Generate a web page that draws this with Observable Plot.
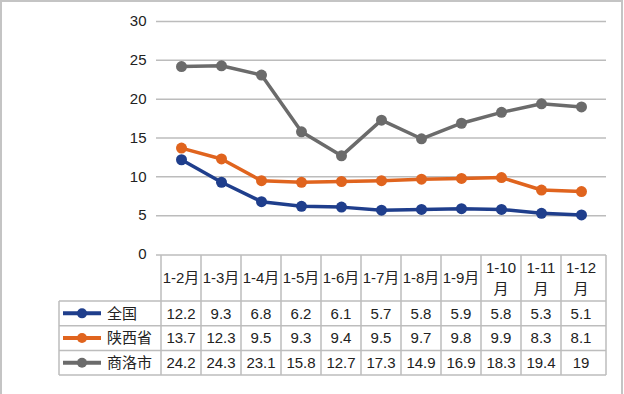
<!DOCTYPE html>
<html>
<head>
<meta charset="utf-8">
<script src="https://cdn.jsdelivr.net/npm/d3@7"></script>
<script src="https://cdn.jsdelivr.net/npm/@observablehq/plot@0.6"></script>
<style>
  html, body { margin: 0; padding: 0; background: #fff; }
  #chart { width: 624px; height: 394px; overflow: hidden; }
</style>
</head>
<body>
<div id="chart"></div>
<script>
const months = ["1-2月","1-3月","1-4月","1-5月","1-6月","1-7月","1-8月","1-9月","1-10月","1-11月","1-12月"];
const seriesNames = ["全国","陕西省","商洛市"];
const national = [12.2, 9.3, 6.8, 6.2, 6.1, 5.7, 5.8, 5.9, 5.8, 5.3, 5.1];
const shaanxi  = [13.7, 12.3, 9.5, 9.3, 9.4, 9.5, 9.7, 9.8, 9.9, 8.3, 8.1];
const shangluo = [24.2, 24.3, 23.1, 15.8, 12.7, 17.3, 14.9, 16.9, 18.3, 19.4, 19];
const valueLabels = [
  ["12.2","9.3","6.8","6.2","6.1","5.7","5.8","5.9","5.8","5.3","5.1"],
  ["13.7","12.3","9.5","9.3","9.4","9.5","9.7","9.8","9.9","8.3","8.1"],
  ["24.2","24.3","23.1","15.8","12.7","17.3","14.9","16.9","18.3","19.4","19"]
];
const colors = ["#1f3e8c", "#e0641e", "#6b6b6b"];
const yTicks = [0, 5, 10, 15, 20, 25, 30];

(function () {
const seriesValues = [national, shaanxi, shangluo];
const data = [];
seriesNames.forEach((s, i) => months.forEach((m, j) => data.push({series: s, month: m, value: seriesValues[i][j]})));

const fontFamily = "'Liberation Sans', 'Noto Sans CJK SC', sans-serif";
const fs = 15;

const plot = Plot.plot({
  width: 624,
  height: 394,
  marginLeft: 156,
  marginRight: 18,
  marginTop: 21,
  marginBottom: 140,
  style: {fontFamily, fontSize: fs + "px", background: "white", color: "#222"},
  x: {type: "band", domain: months, padding: 0, axis: null},
  y: {domain: [0, 30], axis: null},
  color: {domain: seriesNames, range: colors},
  marks: [
    Plot.ruleY(yTicks.filter(t => t > 0), {stroke: "#bcbcbc", strokeWidth: 1.5}),
    Plot.axisY({ticks: yTicks, tickSize: 0, tickPadding: 10, label: null, fontSize: fs, fill: "#222"}),
    Plot.line(data, {x: "month", y: "value", z: "series", stroke: "series", strokeWidth: 3.5, curve: "linear"}),
    Plot.dot(data, {x: "month", y: "value", fill: "series", r: 5.5, stroke: "none"})
  ]
});

document.getElementById("chart").appendChild(plot);

// Data table below the chart, aligned to Plot's x scale
const svg = d3.select(plot);
const sx = plot.scale("x");
const sy = plot.scale("y");
const bw = sx.bandwidth;
const xStart = sx.range[0], xEnd = sx.range[1];
const tableTop = sy.apply(0) + 1;
const headerH = 46, rowH = 24.7;
const legendLeft = 59;
const tableBottom = tableTop + headerH + 3 * rowH;

const grid = svg.append("g").attr("stroke", "#bdbdbd").attr("stroke-width", 1.5).attr("fill", "none");
grid.append("line").attr("x1", xStart).attr("x2", xEnd).attr("y1", tableTop).attr("y2", tableTop);
for (let i = 0; i <= 3; i++) {
  const y = tableTop + headerH + i * rowH;
  grid.append("line").attr("x1", legendLeft).attr("x2", xEnd).attr("y1", y).attr("y2", y);
}
months.forEach(m => {
  const x = sx.apply(m);
  grid.append("line").attr("x1", x).attr("x2", x).attr("y1", tableTop).attr("y2", tableBottom);
});
grid.append("line").attr("x1", xEnd).attr("x2", xEnd).attr("y1", tableTop).attr("y2", tableBottom);
grid.append("line").attr("x1", legendLeft).attr("x2", legendLeft).attr("y1", tableTop + headerH).attr("y2", tableBottom);

const tg = svg.append("g").attr("fill", "#222").attr("font-size", fs).attr("text-anchor", "middle");
months.forEach(m => {
  const cx = sx.apply(m) + bw / 2;
  const cy = tableTop + headerH / 2;
  if (m.length > 4) {
    tg.append("text").attr("x", cx).attr("y", cy - 10).attr("dy", "0.35em").text(m.slice(0, -1));
    tg.append("text").attr("x", cx).attr("y", cy + 11).attr("dy", "0.35em").text(m.slice(-1));
  } else {
    tg.append("text").attr("x", cx).attr("y", cy).attr("dy", "0.35em").text(m);
  }
});
valueLabels.forEach((row, i) => {
  const cy = tableTop + headerH + i * rowH + rowH / 2;
  row.forEach((v, j) => {
    tg.append("text").attr("x", sx.apply(months[j]) + bw / 2).attr("y", cy).attr("dy", "0.35em").text(v);
  });
  svg.append("line").attr("x1", 63).attr("x2", 101).attr("y1", cy).attr("y2", cy)
    .attr("stroke", colors[i]).attr("stroke-width", 4);
  svg.append("circle").attr("cx", 82).attr("cy", cy).attr("r", 5).attr("fill", colors[i]);
  svg.append("text").attr("x", 107).attr("y", cy).attr("dy", "0.35em")
    .attr("text-anchor", "start")
    .attr("font-size", fs).attr("fill", "#222").text(seriesNames[i]);
});

svg.append("rect").attr("x", 1).attr("y", 1).attr("width", 621).attr("height", 400)
  .attr("fill", "none").attr("stroke", "#c4c4c4").attr("stroke-width", 2);
})();
</script>
</body>
</html>
